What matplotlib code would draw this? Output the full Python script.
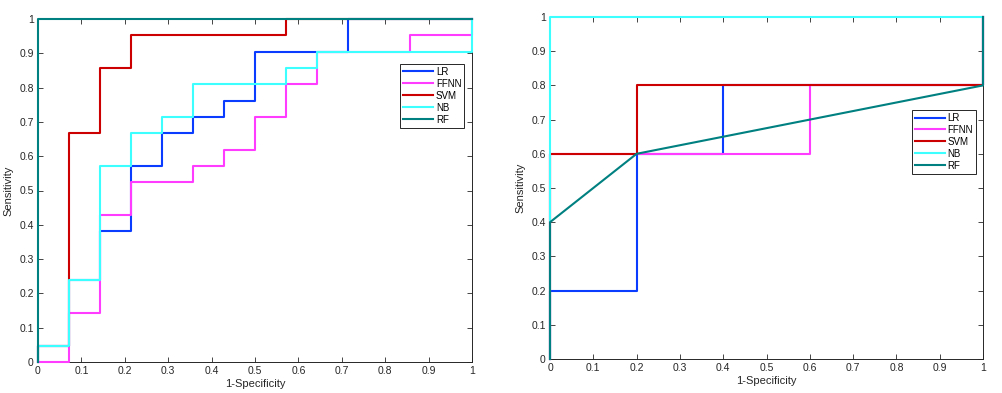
import matplotlib
matplotlib.use("Agg")
import matplotlib.pyplot as plt
import numpy as np

plt.rcParams["font.family"] = ["Liberation Sans", "DejaVu Sans"]

MODELS = ["LR", "FFNN", "SVM", "NB", "RF"]
COLORS = ["#0a3cff", "#ff3cff", "#cc0000", "#3cffff", "#008080"]

# left panel: ROC vertices (1-specificity, sensitivity)
L_LR_X = [0, 0, 0.0714, 0.0714, 0.1429, 0.1429, 0.2143, 0.2143, 0.2857, 0.2857,
          0.3571, 0.3571, 0.4286, 0.4286, 0.5, 0.5, 0.7143, 0.7143, 1]
L_LR_Y = [0, 0.0476, 0.0476, 0.2381, 0.2381, 0.3810, 0.3810, 0.5714, 0.5714, 0.6667,
          0.6667, 0.7143, 0.7143, 0.7619, 0.7619, 0.9048, 0.9048, 1, 1]
L_FFNN_X = [0, 0.0714, 0.0714, 0.1429, 0.1429, 0.2143, 0.2143, 0.3571, 0.3571, 0.4286,
            0.4286, 0.5, 0.5, 0.5714, 0.5714, 0.6429, 0.6429, 0.8571, 0.8571, 1, 1]
L_FFNN_Y = [0, 0, 0.1429, 0.1429, 0.4286, 0.4286, 0.5238, 0.5238, 0.5714, 0.5714,
            0.6190, 0.6190, 0.7143, 0.7143, 0.8095, 0.8095, 0.9048, 0.9048, 0.9524, 0.9524, 1]
L_SVM_X = [0, 0, 0.0714, 0.0714, 0.1429, 0.1429, 0.2143, 0.2143, 0.5714, 0.5714, 1]
L_SVM_Y = [0, 0.0476, 0.0476, 0.6667, 0.6667, 0.8571, 0.8571, 0.9524, 0.9524, 1, 1]
L_NB_X = [0, 0, 0.0714, 0.0714, 0.1429, 0.1429, 0.2143, 0.2143, 0.2857, 0.2857,
          0.3571, 0.3571, 0.5714, 0.5714, 0.6429, 0.6429, 1, 1]
L_NB_Y = [0, 0.0476, 0.0476, 0.2381, 0.2381, 0.5714, 0.5714, 0.6667, 0.6667, 0.7143,
          0.7143, 0.8095, 0.8095, 0.8571, 0.8571, 0.9048, 0.9048, 1]
L_RF_X = [0, 0, 1]
L_RF_Y = [0, 1, 1]

# right panel
R_LR_X = [0, 0, 0.2, 0.2, 0.4, 0.4, 1, 1]
R_LR_Y = [0, 0.2, 0.2, 0.6, 0.6, 0.8, 0.8, 1]
R_FFNN_X = [0, 0, 0.2, 0.6, 0.6, 1, 1]
R_FFNN_Y = [0, 0.6, 0.6, 0.6, 0.8, 0.8, 1]
R_SVM_X = [0, 0, 0.2, 0.2, 1, 1]
R_SVM_Y = [0, 0.6, 0.6, 0.8, 0.8, 1]
R_NB_X = [0, 0, 1]
R_NB_Y = [0, 1, 1]
R_RF_X = [0, 0, 0.2, 1, 1]
R_RF_Y = [0, 0.4, 0.6, 0.8, 1]

TICKS = np.round(np.arange(0, 1.01, 0.1), 1)
TICK_LABELS = ["0", "0.1", "0.2", "0.3", "0.4", "0.5", "0.6", "0.7", "0.8", "0.9", "1"]

AX_COLOR = "#262626"

fig = plt.figure(figsize=(10.03, 3.93), dpi=100)
ax_l = fig.add_axes([38 / 1003, 31 / 393, 434 / 1003, 343 / 393])
ax_r = fig.add_axes([550 / 1003, 34 / 393, 433 / 1003, 342 / 393])

panels = [
    (ax_l, [(L_LR_X, L_LR_Y), (L_FFNN_X, L_FFNN_Y), (L_SVM_X, L_SVM_Y),
            (L_NB_X, L_NB_Y), (L_RF_X, L_RF_Y)], (0.982, 0.869)),
    (ax_r, [(R_LR_X, R_LR_Y), (R_FFNN_X, R_FFNN_Y), (R_SVM_X, R_SVM_Y),
            (R_NB_X, R_NB_Y), (R_RF_X, R_RF_Y)], (0.984, 0.728)),
]

for ax, curves, anchor in panels:
    for (xs, ys), name, col in zip(curves, MODELS, COLORS):
        ax.plot(xs, ys, color=col, linewidth=1.5, label=name,
                clip_on=False, zorder=3)
    ax.set_xlim(0, 1)
    ax.set_ylim(0, 1)
    ax.set_xticks(TICKS)
    ax.set_yticks(TICKS)
    ax.set_xticklabels(TICK_LABELS)
    ax.set_yticklabels(TICK_LABELS)
    ax.tick_params(direction="in", length=3.5, width=0.6, labelsize=7.5,
                   top=True, right=True, colors=AX_COLOR, pad=3)
    for sp in ax.spines.values():
        sp.set_color(AX_COLOR)
        sp.set_linewidth(0.7)
    ax.set_xlabel("1-Specificity", fontsize=8, color=AX_COLOR, labelpad=2)
    ax.set_ylabel("Sensitivity", fontsize=8, color=AX_COLOR, labelpad=4)
    leg = ax.legend(loc="upper right", bbox_to_anchor=anchor, fontsize=7,
                    frameon=True, fancybox=False, framealpha=1,
                    edgecolor="#262626", handlelength=3.1, handletextpad=0.25,
                    borderpad=0.3, labelspacing=0.2, borderaxespad=0)
    leg.set_zorder(5)
    leg.get_frame().set_linewidth(0.7)

fig.savefig("out.png", dpi=100, facecolor="white")
